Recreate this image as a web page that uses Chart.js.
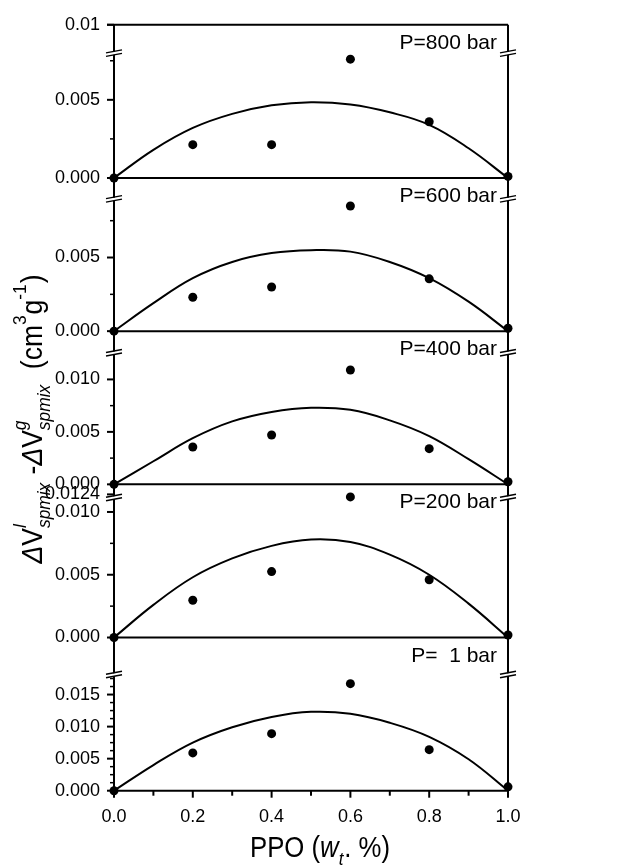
<!DOCTYPE html>
<html>
<head>
<meta charset="utf-8">
<script src="https://cdn.jsdelivr.net/npm/chart.js@4.4.1/dist/chart.umd.min.js"></script>
<style>
  html, body { margin: 0; padding: 0; background: #fff; }
  canvas { display: block; }
</style>
</head>
<body>
<canvas id="vmixChart" width="632" height="865"></canvas>
<script>
// composição de PPO (fração mássica) dos pontos experimentais e da curva ajustada
const composicao = [0, 0.2, 0.4, 0.6, 0.8, 1.0];
const composicaoAjuste = [0, 0.1, 0.2, 0.3, 0.4, 0.5, 0.6, 0.7, 0.8, 0.9, 1.0];

const pressoes = ['P=800 bar', 'P=600 bar', 'P=400 bar', 'P=200 bar', 'P=  1 bar'];

// pontos experimentais (cm3/g)
const exp800 = [0, 0.00213, 0.00213, 0.0076, 0.0036, 0.0001];
const exp600 = [0, 0.0023, 0.0030, 0.0085, 0.00355, 0.0002];
const exp400 = [0, 0.00356, 0.0047, 0.0109, 0.0034, 0.00025];
const exp200 = [0, 0.00297, 0.00525, 0.0112, 0.0046, 0.0002];
const exp1 = [0, 0.0059, 0.0089, 0.0167, 0.0064, 0.0006];

// curvas ajustadas
const ajuste800 = [0, 0.0018, 0.0032, 0.0041, 0.00465, 0.00485, 0.0047, 0.0042, 0.0034, 0.0019, 0];
const ajuste600 = [0, 0.0019, 0.0036, 0.0047, 0.0053, 0.0055, 0.0054, 0.0047, 0.0036, 0.0020, 0];
const ajuste400 = [0, 0.0022, 0.0044, 0.0060, 0.0069, 0.0073, 0.0071, 0.0061, 0.0046, 0.0024, 0];
const ajuste200 = [0, 0.0026, 0.0048, 0.0063, 0.0073, 0.0078, 0.0076, 0.0066, 0.0050, 0.0027, 0];
const ajuste1 = [0, 0.0040, 0.0075, 0.0099, 0.0115, 0.0123, 0.0120, 0.0106, 0.0084, 0.0049, 0];

// marcas do eixo y de cada painel
const ticks800 = [0, 0.005, 0.0098];
const rotulos800 = ['0.000', '0.005', '0.01'];
const ticks600 = [0, 0.005];
const rotulos600 = ['0.000', '0.005'];
const ticks400 = [0, 0.005, 0.010];
const rotulos400 = ['0.000', '0.005', '0.010'];
const ticks200 = [0, 0.005, 0.010, 0.0114];
const rotulos200 = ['0.000', '0.005', '0.010', '0.0124'];
const ticks1 = [0, 0.005, 0.010, 0.015];
const rotulos1 = ['0.000', '0.005', '0.010', '0.015'];

const ticksX = [0, 0.2, 0.4, 0.6, 0.8, 1.0];
const rotulosX = ['0.0', '0.2', '0.4', '0.6', '0.8', '1.0'];

// topo de cada painel, posição da quebra do eixo e passo das marcas menores
const topo = [0.0098, 0.0104, 0.0146, 0.0122, 0.0239];
const quebra = [0.0081, 0.0091, 0.0127, 0.0113, 0.0184];
const passoMenor = [0.0025, 0.0025, 0.0025, 0.0025, 0.00125];

const paineis = [
    { id: 'y800', exp: exp800, ajuste: ajuste800, ticks: ticks800, rotulos: rotulos800 },
    { id: 'y600', exp: exp600, ajuste: ajuste600, ticks: ticks600, rotulos: rotulos600 },
    { id: 'y400', exp: exp400, ajuste: ajuste400, ticks: ticks400, rotulos: rotulos400 },
    { id: 'y200', exp: exp200, ajuste: ajuste200, ticks: ticks200, rotulos: rotulos200 },
    { id: 'y1', exp: exp1, ajuste: ajuste1, ticks: ticks1, rotulos: rotulos1 }
];

const FONTE = 'Arial, "Liberation Sans", sans-serif';

/**
 * Escreve um texto com índices (sobrescrito/subscrito) centrado em (x, y).
 */
function escreverFormula(ctx, partes, x, y, angulo, alvo, tam) {
    const tamMenor = Math.round(tam * 0.66);
    const fonteBase = (it) => `${it ? 'italic ' : ''}${tam}px ${FONTE}`;
    const fonteMenor = (it) => `${it ? 'italic ' : ''}${tamMenor}px ${FONTE}`;
    const larguras = partes.map(p => {
        if (p.t !== undefined) {
            ctx.font = fonteBase(p.it);
            return ctx.measureText(p.t).width;
        }
        let w = 0;
        if (p.sup) { ctx.font = fonteMenor(p.itSup); w = Math.max(w, ctx.measureText(p.sup).width); }
        if (p.sub) { ctx.font = fonteMenor(p.itSub); w = Math.max(w, ctx.measureText(p.sub).width); }
        return w + 1;
    });
    const total = larguras.reduce((a, b) => a + b, 0);
    ctx.save();
    ctx.translate(x, y);
    ctx.rotate(angulo);
    ctx.scale(alvo / total, 1);
    ctx.fillStyle = '#000';
    ctx.textAlign = 'left';
    ctx.textBaseline = 'alphabetic';
    let pos = -total / 2;
    partes.forEach((p, i) => {
        if (p.t !== undefined) {
            ctx.font = fonteBase(p.it);
            ctx.fillText(p.t, pos, 0);
        } else {
            if (p.sup) { ctx.font = fonteMenor(p.itSup); ctx.fillText(p.sup, pos, -tam * 0.55); }
            if (p.sub) { ctx.font = fonteMenor(p.itSub); ctx.fillText(p.sub, pos, tam * 0.26); }
        }
        pos += larguras[i];
    });
    ctx.restore();
}

const tituloY = [
    { t: '\u0394', it: true }, { t: 'V' }, { sup: 'l', itSup: true, sub: 'spmix', itSub: true },
    { t: ' -' }, { t: '\u0394', it: true }, { t: 'V' }, { sup: 'g', itSup: true, sub: 'spmix', itSub: true },
    { t: '  (cm' }, { sup: '3' }, { t: 'g' }, { sup: '-1' }, { t: ')' }
];
const tituloX = [
    { t: 'PPO (' }, { t: 'w', it: true }, { sub: 't', itSub: true }, { t: '. %)' }
];

function linha(ctx, x1, y1, x2, y2) {
    ctx.beginPath();
    ctx.moveTo(x1, y1);
    ctx.lineTo(x2, y2);
    ctx.stroke();
}

// Desenha molduras, marcas, quebras de eixo, rótulos dos painéis e títulos
const molduraPlugin = {
    id: 'moldura',
    afterDraw(chart) {
        const ctx = chart.ctx;
        const area = chart.chartArea;
        const xs = chart.scales.x;
        ctx.save();
        ctx.strokeStyle = '#000';
        ctx.lineWidth = 2;
        ctx.lineCap = 'butt';

        linha(ctx, area.left - 7, area.top, area.right, area.top);
        linha(ctx, area.left, area.top, area.left, area.bottom);
        linha(ctx, area.right, area.top, area.right, area.bottom);

        // marcas do eixo x
        for (let k = 0; k <= 10; k++) {
            const px = xs.getPixelForValue(k / 10);
            linha(ctx, px, area.bottom, px, area.bottom + (k % 2 === 0 ? 7 : 5));
        }

        paineis.forEach((p, i) => {
            const s = chart.scales[p.id];
            linha(ctx, area.left, s.bottom, area.right, s.bottom);
            p.ticks.forEach(v => {
                const py = s.getPixelForValue(v);
                linha(ctx, area.left - 7, py, area.left, py);
            });
            ctx.lineWidth = 1.5;
            for (let k = 1; k * passoMenor[i] < quebra[i] - 0.0004; k++) {
                const v = k * passoMenor[i];
                if (p.ticks.some(t => Math.abs(t - v) < 1e-7)) continue;
                const py = s.getPixelForValue(v);
                linha(ctx, area.left - 4, py, area.left, py);
            }
            ctx.lineWidth = 2;

            // quebra do eixo nos dois lados
            const yq = s.getPixelForValue(quebra[i]);
            [area.left, area.right].forEach(xq => {
                ctx.fillStyle = '#fff';
                ctx.beginPath();
                ctx.moveTo(xq - 8, yq + 2);
                ctx.lineTo(xq + 8, yq - 1);
                ctx.lineTo(xq + 8, yq + 2);
                ctx.lineTo(xq - 8, yq + 5);
                ctx.closePath();
                ctx.fill();
                ctx.lineWidth = 1.5;
                linha(ctx, xq - 8, yq + 1.5, xq + 8, yq - 1.5);
                linha(ctx, xq - 8, yq + 5, xq + 8, yq + 2);
                ctx.lineWidth = 2;
            });

            ctx.fillStyle = '#000';
            ctx.font = `21px ${FONTE}`;
            ctx.textAlign = 'right';
            ctx.textBaseline = 'alphabetic';
            ctx.fillText(pressoes[i], area.right - 11, s.top + 24);
        });
        ctx.restore();

        escreverFormula(ctx, tituloX, (area.left + area.right) / 2 + 9, 857, 0, 140, 29);
        escreverFormula(ctx, tituloY, 42, 419, -Math.PI / 2, 289, 29);
    }
};

const datasets = [];
paineis.forEach(p => {
    datasets.push({
        data: composicao.map((x, i) => ({ x: x, y: p.exp[i] })),
        yAxisID: p.id,
        showLine: false,
        pointRadius: 4.5,
        pointBackgroundColor: '#000',
        pointBorderColor: '#000',
        pointBorderWidth: 0,
        clip: false
    });
    datasets.push({
        data: composicaoAjuste.map((x, i) => ({ x: x, y: p.ajuste[i] })),
        yAxisID: p.id,
        showLine: true,
        borderColor: '#000',
        borderWidth: 2,
        pointRadius: 0,
        tension: 0.4,
        clip: false
    });
});

const scales = {
    x: {
        type: 'linear',
        position: 'bottom',
        min: 0,
        max: 1,
        grid: { display: false, drawTicks: false },
        border: { display: false },
        afterBuildTicks: (scale) => { scale.ticks = ticksX.map(v => ({ value: v })); },
        afterFit: (scale) => { scale.height = 74.3; },
        ticks: {
            autoSkip: false,
            maxRotation: 0,
            padding: 16,
            color: '#000',
            font: { size: 18, family: FONTE },
            callback: (v, i) => rotulosX[i]
        }
    }
};
// eixos empilhados: o último declarado fica no topo
paineis.slice().reverse().forEach(p => {
    const i = paineis.indexOf(p);
    scales[p.id] = {
        type: 'linear',
        position: 'left',
        stack: 'paineis',
        stackWeight: 1,
        min: 0,
        max: topo[i],
        grid: { display: false, drawTicks: false },
        border: { display: false },
        afterBuildTicks: (scale) => { scale.ticks = p.ticks.map(v => ({ value: v })); },
        afterFit: (scale) => { scale.width = 114; },
        ticks: {
            autoSkip: false,
            padding: 14,
            color: '#000',
            font: { size: 18, family: FONTE },
            callback: (v, k) => p.rotulos[k]
        }
    };
});

new Chart(document.getElementById('vmixChart'), {
    type: 'scatter',
    data: { datasets: datasets },
    options: {
        responsive: false,
        animation: false,
        layout: { padding: { top: 22, right: 124, left: 0, bottom: 0 } },
        plugins: {
            legend: { display: false },
            tooltip: { enabled: false }
        },
        scales: scales
    },
    plugins: [molduraPlugin]
});
</script>
</body>
</html>
